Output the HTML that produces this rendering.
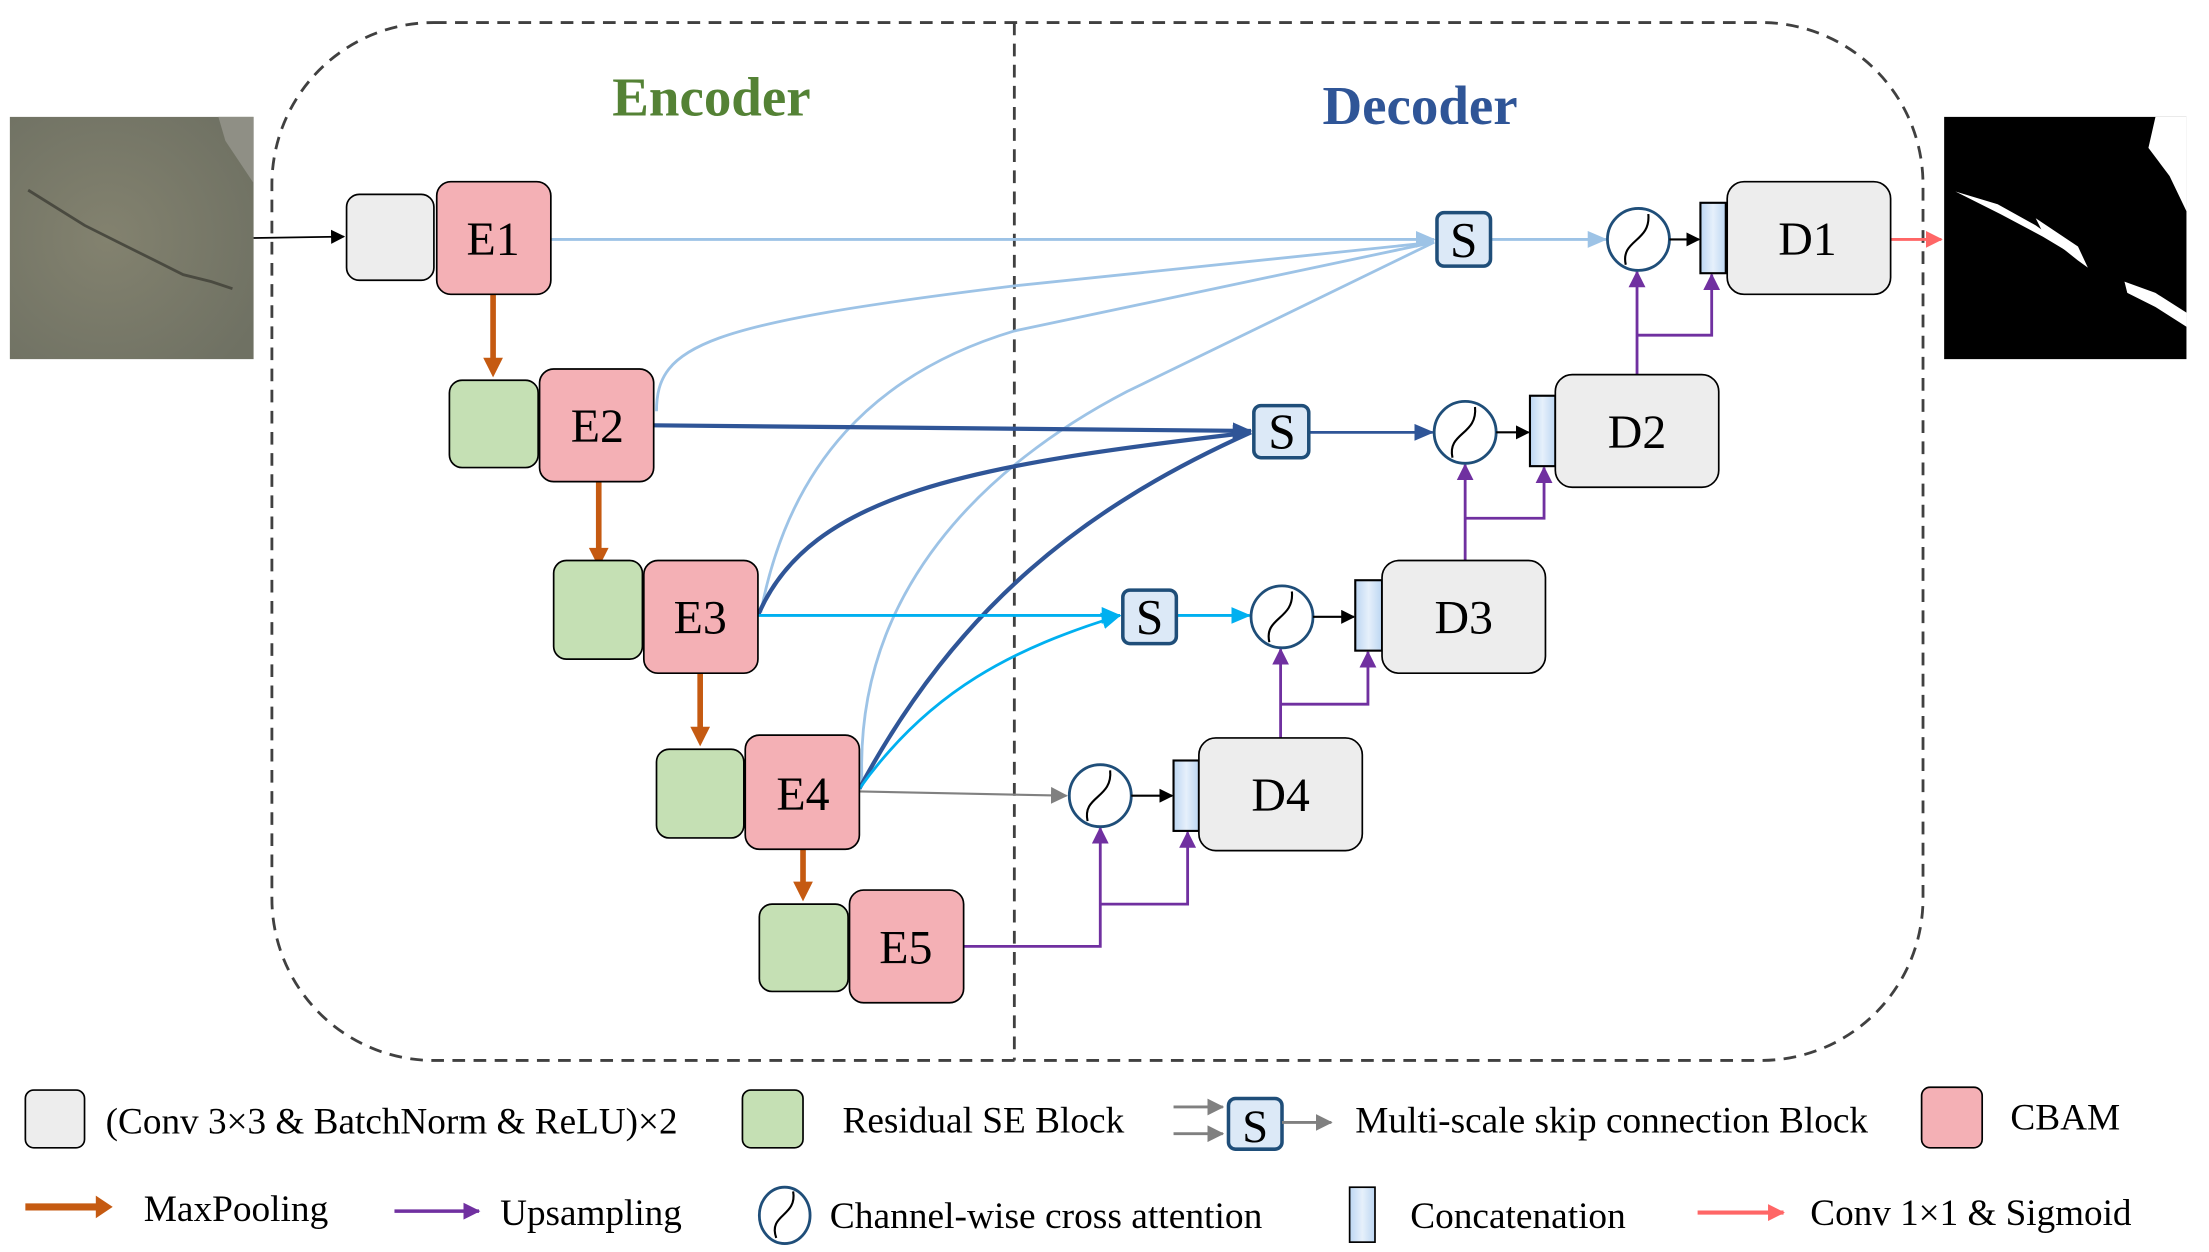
<!DOCTYPE html>
<html><head><meta charset="utf-8"><style>
html,body{margin:0;padding:0;background:#fff;}
svg{display:block;}
text{font-family:"Liberation Serif",serif;}
</style></head><body>
<svg width="2209" height="1252" viewBox="0 0 1568 889" preserveAspectRatio="none" xmlns="http://www.w3.org/2000/svg">
<defs>
<marker id="ak" markerWidth="10" markerHeight="10" refX="9" refY="5" orient="auto" markerUnits="userSpaceOnUse"><path d="M0,0 L10,5 L0,10z" fill="#000"/></marker>
<marker id="ag" markerWidth="12" markerHeight="12" refX="11" refY="6" orient="auto" markerUnits="userSpaceOnUse"><path d="M0,0 L12,6 L0,12z" fill="#808080"/></marker>
<marker id="ap" markerWidth="12" markerHeight="12" refX="11" refY="6" orient="auto" markerUnits="userSpaceOnUse"><path d="M0,0 L12,6 L0,12z" fill="#7030A0"/></marker>
<marker id="al" markerWidth="14" markerHeight="12" refX="13" refY="6" orient="auto" markerUnits="userSpaceOnUse"><path d="M0,0 L14,6 L0,12z" fill="#9DC3E6"/></marker>
<marker id="ad" markerWidth="14" markerHeight="12" refX="13" refY="6" orient="auto" markerUnits="userSpaceOnUse"><path d="M0,0 L14,6 L0,12z" fill="#2F5597"/></marker>
<marker id="ac" markerWidth="14" markerHeight="12" refX="13" refY="6" orient="auto" markerUnits="userSpaceOnUse"><path d="M0,0 L14,6 L0,12z" fill="#00B0F0"/></marker>
<marker id="ar" markerWidth="12" markerHeight="12" refX="11" refY="6" orient="auto" markerUnits="userSpaceOnUse"><path d="M0,0 L12,6 L0,12z" fill="#FF6666"/></marker>
<linearGradient id="cg" x1="0" x2="1"><stop offset="0" stop-color="#bcd6f2"/><stop offset="0.5" stop-color="#e6f0fb"/><stop offset="1" stop-color="#bcd6f2"/></linearGradient>
<radialGradient id="tex" cx="0.4" cy="0.5" r="0.7"><stop offset="0" stop-color="#83826f"/><stop offset="1" stop-color="#6f7163"/></radialGradient>
</defs>

<rect x="193" y="16" width="1172" height="737" rx="115" fill="none" stroke="#404040" stroke-width="2" stroke-dasharray="9,6"/>
<line x1="720" y1="16" x2="720" y2="753" stroke="#404040" stroke-width="2" stroke-dasharray="9,6"/>
<text x="505" y="82" font-size="39" font-weight="bold" fill="#548235" text-anchor="middle">Encoder</text>
<text x="1008" y="88" font-size="39" font-weight="bold" fill="#2F5597" text-anchor="middle">Decoder</text>

<rect x="7" y="83" width="173" height="172" fill="url(#tex)"/>
<path d="M20,135 L60,160 L90,175 L110,185 L130,195 L150,200 L165,205" stroke="#4a4a40" stroke-width="2" fill="none"/>
<path d="M155,83 L180,83 L180,130 L170,115 L160,100z" fill="#8f8f85"/>
<rect x="1380" y="83" width="172" height="172" fill="#000"/>
<path d="M1388,136 L1420,152 L1450,168 L1470,180 L1480,188 L1470,178 L1445,160 L1418,145z" fill="#fff"/>
<path d="M1445,155 L1475,175 L1482,190 L1475,185 L1450,165z" fill="#fff"/>
<path d="M1508,200 L1530,208 L1552,222 L1552,232 L1530,218 L1510,208z" fill="#fff"/>
<path d="M1530,83 L1552,83 L1552,150 L1540,125 L1525,105z" fill="#fff"/>

<g fill="none" stroke-width="2">
<path d="M466,292 C466,245 500,230 720,203 L1018,172" stroke="#9DC3E6"/>
<path d="M540,435 C560,330 620,265 720,235 L1018,172" stroke="#9DC3E6"/>
<path d="M612,558 C605,420 700,330 800,278 L1018,172" stroke="#9DC3E6"/>
<line x1="391" y1="170" x2="1018" y2="170" stroke="#9DC3E6" marker-end="url(#al)"/>
<path d="M538,437 C575,350 690,330 888,307" stroke="#2F5597" stroke-width="3"/>
<path d="M610,560 C680,430 770,360 888,307" stroke="#2F5597" stroke-width="3"/>
<line x1="464" y1="302" x2="888" y2="306" stroke="#2F5597" stroke-width="3" marker-end="url(#ad)"/>
<path d="M610,560 C660,490 720,460 795,437" stroke="#00B0F0" marker-end="url(#ac)"/>
<line x1="538" y1="437" x2="795" y2="437" stroke="#00B0F0" marker-end="url(#ac)"/>
<line x1="610" y1="562" x2="757" y2="565" stroke="#808080" stroke-width="1.5" marker-end="url(#ag)"/>
<line x1="1058" y1="170" x2="1140" y2="170" stroke="#9DC3E6" marker-end="url(#al)"/>
<line x1="929" y1="307" x2="1017" y2="307" stroke="#2F5597" marker-end="url(#ad)"/>
<line x1="835" y1="437" x2="887" y2="437" stroke="#00B0F0" marker-end="url(#ac)"/>
<line x1="180" y1="169" x2="244" y2="168" stroke="#000" stroke-width="1.2" marker-end="url(#ak)"/>
<line x1="1342" y1="170" x2="1378" y2="170" stroke="#FF6666" marker-end="url(#ar)"/>
</g>

<g stroke="#C55A11" stroke-width="4" fill="#C55A11">
<line x1="350" y1="209" x2="350" y2="256"/><path d="M343,254 L357,254 L350,268z" stroke="none"/>
<line x1="425" y1="342" x2="425" y2="391"/><path d="M418,389 L432,389 L425,403z" stroke="none"/>
<line x1="497" y1="478" x2="497" y2="518"/><path d="M490,516 L504,516 L497,530z" stroke="none"/>
<line x1="570" y1="603" x2="570" y2="628"/><path d="M563,626 L577,626 L570,640z" stroke="none"/>
</g>

<g fill="none" stroke="#7030A0" stroke-width="2">
<path d="M684,672 L781,672 L781,588" marker-end="url(#ap)"/>
<path d="M781,642 L843,642 L843,591" marker-end="url(#ap)"/>
<path d="M909,524 L909,461" marker-end="url(#ap)"/>
<path d="M909,500 L971,500 L971,463" marker-end="url(#ap)"/>
<path d="M1040,398 L1040,330" marker-end="url(#ap)"/>
<path d="M1040,368 L1096,368 L1096,332" marker-end="url(#ap)"/>
<path d="M1162,266 L1162,193" marker-end="url(#ap)"/>
<path d="M1162,238 L1215,238 L1215,195" marker-end="url(#ap)"/>
</g>

<g stroke="#000" stroke-width="1.2">
<rect x="246" y="138" width="62" height="61" rx="9" fill="#EDEDED"/>
<rect x="310" y="129" width="81" height="80" rx="10" fill="#F4B0B5"/>
<rect x="319" y="270" width="63" height="62" rx="9" fill="#C5E0B4"/>
<rect x="383" y="262" width="81" height="80" rx="10" fill="#F4B0B5"/>
<rect x="393" y="398" width="63" height="70" rx="9" fill="#C5E0B4"/>
<rect x="457" y="398" width="81" height="80" rx="10" fill="#F4B0B5"/>
<rect x="466" y="532" width="62" height="63" rx="9" fill="#C5E0B4"/>
<rect x="529" y="522" width="81" height="81" rx="10" fill="#F4B0B5"/>
<rect x="539" y="642" width="63" height="62" rx="9" fill="#C5E0B4"/>
<rect x="603" y="632" width="81" height="80" rx="10" fill="#F4B0B5"/>
</g>
<g font-size="34" text-anchor="middle" fill="#000">
<text x="350" y="181">E1</text><text x="424" y="314">E2</text><text x="497" y="450">E3</text>
<text x="570" y="575">E4</text><text x="643" y="684">E5</text>
</g>

<g stroke="#1F4E79" stroke-width="2.5" fill="#DCE9F7">
<rect x="1020" y="151" width="38" height="38" rx="5"/>
<rect x="890" y="288" width="39" height="37" rx="5"/>
<rect x="797" y="419" width="38" height="38" rx="5"/>
</g>
<g font-size="35" text-anchor="middle" fill="#000">
<text x="1039" y="182">S</text><text x="910" y="318">S</text><text x="816" y="450">S</text>
</g>

<g fill="#fff" stroke="#1F4E79" stroke-width="2">
<circle cx="1163" cy="170" r="22"/><circle cx="1040" cy="307" r="22"/>
<circle cx="910" cy="438" r="22"/><circle cx="781" cy="565" r="22"/>
</g>
<g fill="none" stroke="#000" stroke-width="1.5">
<path d="M1154,188 C1150,170 1172,172 1170,152"/>
<path d="M1031,325 C1027,307 1049,309 1047,289"/>
<path d="M901,456 C897,438 919,440 917,420"/>
<path d="M772,583 C768,565 790,567 788,547"/>
</g>
<g stroke="#000" stroke-width="1.5">
<line x1="1185" y1="170" x2="1206" y2="170" marker-end="url(#ak)"/>
<line x1="1062" y1="307" x2="1085" y2="307" marker-end="url(#ak)"/>
<line x1="932" y1="438" x2="961" y2="438" marker-end="url(#ak)"/>
<line x1="803" y1="565" x2="832" y2="565" marker-end="url(#ak)"/>
</g>

<g stroke="#000" stroke-width="1.5">
<rect x="1207" y="144" width="18" height="50" fill="url(#cg)"/>
<rect x="1086" y="281" width="18" height="50" fill="url(#cg)"/>
<rect x="962" y="412" width="19" height="50" fill="url(#cg)"/>
<rect x="833" y="540" width="18" height="50" fill="url(#cg)"/>
<rect x="1226" y="129" width="116" height="80" rx="12" fill="#EDEDED" stroke-width="1.2"/>
<rect x="1104" y="266" width="116" height="80" rx="12" fill="#EDEDED" stroke-width="1.2"/>
<rect x="981" y="398" width="116" height="80" rx="12" fill="#EDEDED" stroke-width="1.2"/>
<rect x="851" y="524" width="116" height="80" rx="12" fill="#EDEDED" stroke-width="1.2"/>
</g>
<g font-size="34" text-anchor="middle" fill="#000">
<text x="1283" y="181">D1</text><text x="1162" y="318">D2</text><text x="1039" y="450">D3</text><text x="909" y="576">D4</text>
</g>

<g stroke="#000" stroke-width="1.2">
<rect x="18" y="774" width="42" height="41" rx="6" fill="#EDEDED"/>
<rect x="527" y="774" width="43" height="41" rx="6" fill="#C5E0B4"/>
<rect x="1364" y="772" width="43" height="43" rx="6" fill="#F4B0B5"/>
<rect x="958" y="843" width="18" height="39" fill="url(#cg)"/>
</g>
<rect x="872" y="780" width="38" height="36" rx="5" fill="#DCE9F7" stroke="#1F4E79" stroke-width="2.5"/>
<text x="891" y="811" font-size="33" text-anchor="middle">S</text>
<g stroke="#808080" stroke-width="2">
<line x1="833" y1="786" x2="868" y2="786" marker-end="url(#ag)"/>
<line x1="833" y1="805" x2="868" y2="805" marker-end="url(#ag)"/>
<line x1="910" y1="797" x2="945" y2="797" marker-end="url(#ag)"/>
</g>
<line x1="18" y1="857" x2="70" y2="857" stroke="#C55A11" stroke-width="5"/><path d="M68,849 L80,857 L68,865z" fill="#C55A11"/>
<line x1="280" y1="860" x2="340" y2="860" stroke="#7030A0" stroke-width="2.5" marker-end="url(#ap)"/>
<line x1="1205" y1="861" x2="1266" y2="861" stroke="#FF6666" stroke-width="3" marker-end="url(#ar)"/>
<ellipse cx="557" cy="863" rx="18" ry="20" fill="#fff" stroke="#1F4E79" stroke-width="2"/>
<path d="M551,879 C545,862 566,864 563,846" fill="none" stroke="#000" stroke-width="1.5"/>
<g font-size="26.5" fill="#000">
<text x="75" y="805" textLength="406" lengthAdjust="spacingAndGlyphs">(Conv 3×3 &amp; BatchNorm &amp; ReLU)×2</text>
<text x="598" y="804" textLength="200" lengthAdjust="spacingAndGlyphs">Residual SE Block</text>
<text x="962" y="804" textLength="364" lengthAdjust="spacingAndGlyphs">Multi-scale skip connection Block</text>
<text x="1427" y="802" textLength="78" lengthAdjust="spacingAndGlyphs">CBAM</text>
<text x="102" y="867" textLength="131" lengthAdjust="spacingAndGlyphs">MaxPooling</text>
<text x="355" y="870" textLength="129" lengthAdjust="spacingAndGlyphs">Upsampling</text>
<text x="589" y="872" textLength="307" lengthAdjust="spacingAndGlyphs">Channel-wise cross attention</text>
<text x="1001" y="872" textLength="153" lengthAdjust="spacingAndGlyphs">Concatenation</text>
<text x="1285" y="870" textLength="228" lengthAdjust="spacingAndGlyphs">Conv 1×1 &amp; Sigmoid</text>
</g>
</svg>
</body></html>
